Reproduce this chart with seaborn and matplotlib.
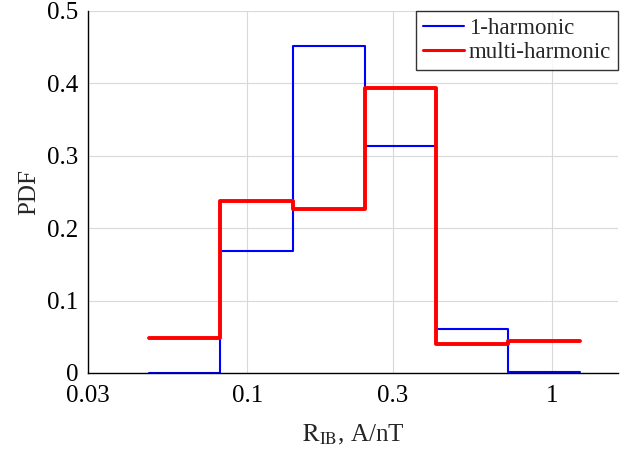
import numpy as np
import pandas as pd
import matplotlib
matplotlib.use("Agg")
import matplotlib.pyplot as plt
import seaborn as sns
from matplotlib.ticker import FixedLocator, NullLocator, FixedFormatter

# ---- data ----
bin_edges = [0.0477, 0.0816, 0.141, 0.243, 0.417, 0.72, 1.24]
pdf_1harm = [0.0, 0.169, 0.451, 0.314, 0.061, 0.002]
pdf_multi = [0.049, 0.237, 0.227, 0.394, 0.040, 0.044]
series_names = ["1-harmonic", "multi-harmonic"]
x_ticks = [0.03, 0.1, 0.3, 1]
x_tick_labels = ["0.03", "0.1", "0.3", "1"]
y_ticks = [0, 0.1, 0.2, 0.3, 0.4, 0.5]
y_tick_labels = ["0", "0.1", "0.2", "0.3", "0.4", "0.5"]

sns.set_style("white")
plt.rcParams["font.family"] = ["Liberation Serif", "DejaVu Serif"]
plt.rcParams["mathtext.fontset"] = "stix"

rows = []
for name, vals in zip(series_names, [pdf_1harm, pdf_multi]):
    ys = list(vals) + [vals[-1]]
    for xe, yv in zip(bin_edges, ys):
        rows.append({"R": xe, "PDF": yv, "series": name})
df = pd.DataFrame(rows)

fig = plt.figure(figsize=(6.27, 4.58), dpi=100)
ax = fig.add_axes([0.1404, 0.1856, 0.8452, 0.7904])

styles = {"1-harmonic": ("#0000ff", 1.5), "multi-harmonic": ("#ff0000", 2.8)}
for name in series_names:
    c, lw = styles[name]
    sns.lineplot(data=df[df["series"] == name], x="R", y="PDF", ax=ax,
                 drawstyle="steps-post", color=c, linewidth=lw, label=name,
                 sort=True, estimator=None)

ax.set_xscale("log")
ax.set_xlim(0.03, 1.65)
ax.set_ylim(0, 0.5)
ax.xaxis.set_major_locator(FixedLocator(x_ticks))
ax.xaxis.set_major_formatter(FixedFormatter(x_tick_labels))
ax.xaxis.set_minor_locator(NullLocator())
ax.set_yticks(y_ticks)
ax.set_yticklabels(y_tick_labels)

ax.grid(True, color="#d9d9d9", linewidth=0.8)
ax.set_axisbelow(True)
for s in ["top", "right"]:
    ax.spines[s].set_visible(False)
for s in ["left", "bottom"]:
    ax.spines[s].set_color("black")
    ax.spines[s].set_linewidth(1.0)
ax.tick_params(axis="both", direction="in", length=4, width=0.8,
               labelsize=18, colors="black")
ax.tick_params(axis="y", pad=7)
ax.tick_params(axis="x", pad=9)

ax.set_xlabel(r"$\mathrm{R_{IB}}$, A/nT", fontsize=18, labelpad=11)
ax.set_ylabel("PDF", fontsize=18, labelpad=5)

leg = ax.legend(loc="upper right", fontsize=16.5, frameon=True, fancybox=False,
                edgecolor="black", borderaxespad=0.0, handlelength=1.8,
                borderpad=0.3, labelspacing=0.15, handletextpad=0.2)
leg.get_frame().set_linewidth(1.0)
for line, lw in zip(leg.get_lines(), [1.5, 2.2]):
    line.set_linewidth(lw)

fig.savefig("out.png", dpi=100)
